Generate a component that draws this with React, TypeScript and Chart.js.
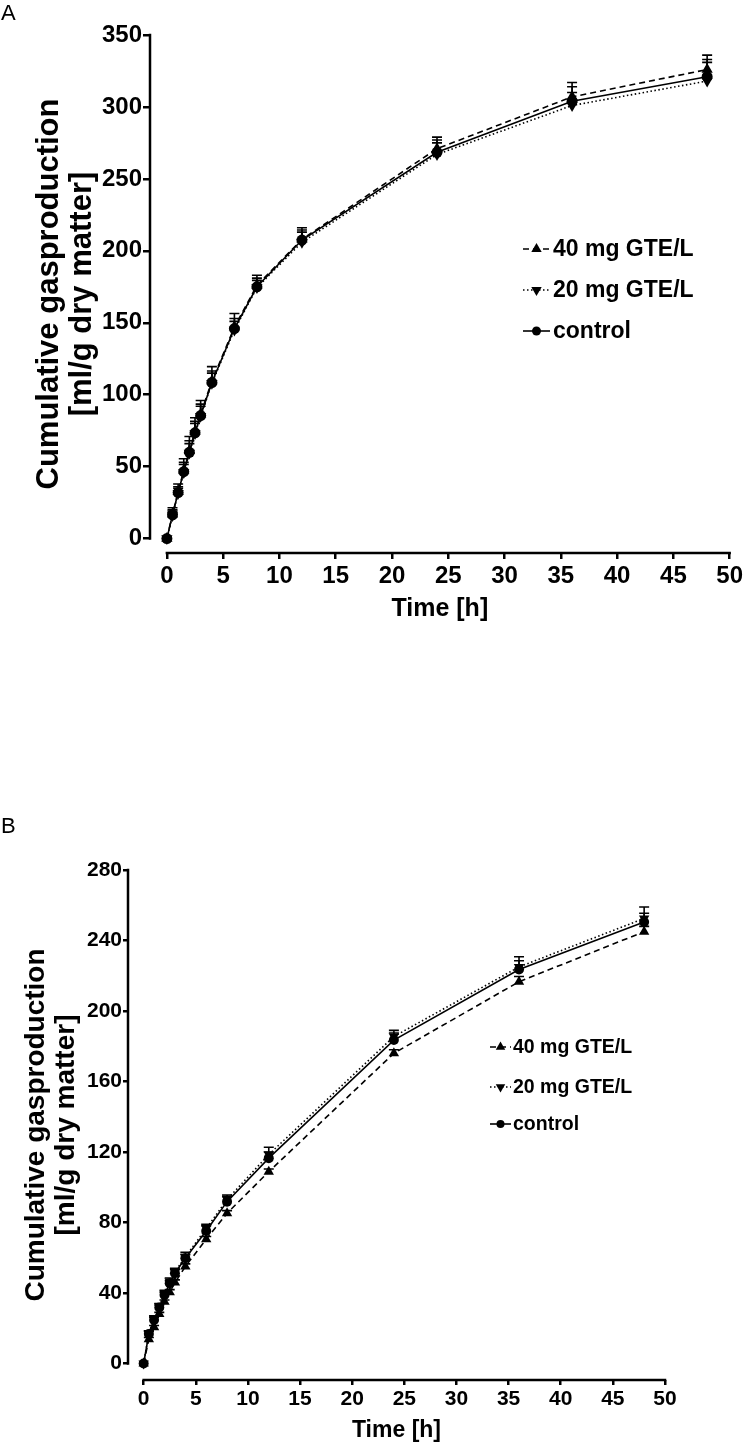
import React, { useEffect, useRef } from "react";
import { Chart, registerables } from "chart.js";

Chart.register(...registerables);

// ---------- data ----------
const times = [0, 0.5, 1, 1.5, 2, 2.5, 3, 4, 6, 8, 12, 24, 36, 48];
const seriesLabels = ["40 mg GTE/L", "20 mg GTE/L", "control"];

// Panel A
const aGte40 = [0, 17, 32.5, 47.5, 61, 74.5, 86.5, 109.5, 147, 176, 208, 271, 307, 326];
const aGte20 = [0, 16, 31.5, 46, 59.5, 73, 85, 108, 145, 174.5, 206, 267, 301, 318];
const aControl = [0, 16.5, 32, 46.5, 60, 73.5, 85.5, 108.5, 146, 175, 207.5, 268.5, 304, 321];
const aGte40Err = [0, 4.5, 5.5, 8, 10, 9.5, 9.5, 10, 9.5, 7, 8, 8, 10, 10];
const aGte20Err = [0, 3, 3.5, 5.5, 6.5, 7, 7, 7, 6, 5, 7, 8, 9, 13];
const aControlErr = [0, 3.5, 4, 6.5, 8, 8, 8, 8, 7, 6, 7, 8.5, 10, 12];
const aYTicks = [0, 50, 100, 150, 200, 250, 300, 350];
const aXTicks = [0, 5, 10, 15, 20, 25, 30, 35, 40, 45, 50];

// Panel B
const bGte40 = [0, 13.7, 20.5, 28, 35, 40.4, 45.9, 55, 70.5, 85.2, 108.8, 176, 216.6, 245];
const bGte20 = [0, 17, 25.5, 32.5, 39.5, 46.5, 52, 60.5, 76.5, 93, 118.5, 185.5, 225, 252.5];
const bControl = [0, 16.7, 24.7, 31.7, 38.9, 45.5, 51.2, 59.7, 75.2, 91.8, 116.5, 183.5, 223.5, 250.5];
const bGte40Err = [0, 1, 1, 1, 1, 1.5, 1.5, 1.5, 1.5, 1.5, 1.5, 2, 3, 3];
const bGte20Err = [0, 1.5, 1.5, 1.5, 2, 2, 2, 2.5, 2.5, 2.6, 4.2, 3.5, 5.8, 6.5];
const bControlErr = [0, 1.5, 1.5, 1.5, 1.5, 1.5, 2, 2, 3, 3, 3.5, 4, 5, 5];
const bYTicks = [0, 40, 80, 120, 160, 200, 240, 280];
const bXTicks = [0, 5, 10, 15, 20, 25, 30, 35, 40, 45, 50];

const yTitleLines = ["Cumulative gasproduction", "[ml/g dry matter]"];
const xTitle = "Time [h]";

// ---------- styling ----------
const FONT = "'Liberation Sans', Arial, Helvetica, sans-serif";

type Panel = {
  top: number;
  width: number;
  height: number;
  padTop: number;
  padRight: number;
  yScaleWidth: number;
  xScaleHeight: number;
  xMin: number;
  yMin: number;
  yTicks: number[];
  xTicks: number[];
  values: number[][];
  errors: number[][];
  tickFont: number;
  yTickLen: number;
  yTickPad: number;
  xTickLen: number;
  xTickPad: number;
  yTitleFont: number;
  yTitleLH: number;
  yTitlePad: number;
  xTitleFont: number;
  xTitlePad: number;
  legendX: number;
  legendLine: number;
  legendTextX: number;
  legendRows: number[];
  legendFont: number;
  markerR: number;
  triR: number;
  capW: number;
};

const markerKinds = ["up", "down", "circle"];
const dashes = [[6, 4], [1.5, 2.5], []];

function drawMarker(ctx: CanvasRenderingContext2D, kind: string, x: number, y: number, r: number) {
  ctx.beginPath();
  if (kind === "circle") {
    ctx.arc(x, y, r, 0, Math.PI * 2);
  } else {
    let rad = kind === "down" ? Math.PI : 0;
    ctx.moveTo(x + Math.sin(rad) * r, y - Math.cos(rad) * r);
    rad += (2 * Math.PI) / 3;
    ctx.lineTo(x + Math.sin(rad) * r, y - Math.cos(rad) * r);
    rad += (2 * Math.PI) / 3;
    ctx.lineTo(x + Math.sin(rad) * r, y - Math.cos(rad) * r);
    ctx.closePath();
  }
  ctx.fill();
}

function makeConfig(p: Panel): any {
  const datasets = seriesLabels.map((label, si) => ({
    label,
    data: times.map((t, i) => ({ x: t, y: p.values[si][i] })),
    borderColor: "#000",
    backgroundColor: "#000",
    borderWidth: 1.6,
    borderDash: dashes[si],
    pointStyle: markerKinds[si] === "circle" ? "circle" : "triangle",
    rotation: markerKinds[si] === "down" ? 180 : 0,
    pointRadius: markerKinds[si] === "circle" ? p.markerR : p.triR,
    pointBorderWidth: 0,
    pointBackgroundColor: "#000",
    pointBorderColor: "#000",
    tension: 0,
    errors: p.errors[si],
    order: 2 - si,
  }));

  const extras = {
    id: "panelExtras",
    afterDatasetsDraw(chart: any) {
      const ctx: CanvasRenderingContext2D = chart.ctx;
      const xs = chart.scales.x;
      const ys = chart.scales.y;
      ctx.save();
      ctx.strokeStyle = "#000";
      ctx.lineWidth = 1.6;
      ctx.setLineDash([]);
      chart.data.datasets.forEach((ds: any) => {
        ds.data.forEach((pt: any, i: number) => {
          const e = ds.errors[i];
          if (!e) return;
          const x = xs.getPixelForValue(pt.x);
          const y0 = ys.getPixelForValue(pt.y);
          const y1 = ys.getPixelForValue(pt.y + e);
          ctx.beginPath();
          ctx.moveTo(x, y0);
          ctx.lineTo(x, y1);
          ctx.moveTo(x - p.capW / 2, y1);
          ctx.lineTo(x + p.capW / 2, y1);
          ctx.stroke();
        });
      });
      ctx.restore();
    },
    afterDraw(chart: any) {
      const ctx: CanvasRenderingContext2D = chart.ctx;
      const xs = chart.scales.x;
      const ys = chart.scales.y;
      const area = chart.chartArea;
      ctx.save();
      ctx.strokeStyle = "#000";
      ctx.lineWidth = 2.5;
      ctx.setLineDash([]);
      ctx.beginPath();
      ctx.moveTo(area.left, ys.getPixelForValue(p.yTicks[0]) + 1.25);
      ctx.lineTo(area.left, ys.getPixelForValue(p.yTicks[p.yTicks.length - 1]) - 1.25);
      ctx.moveTo(xs.getPixelForValue(p.xTicks[0]) - 1.25, area.bottom);
      ctx.lineTo(xs.getPixelForValue(p.xTicks[p.xTicks.length - 1]) + 1.25, area.bottom);
      ctx.stroke();

      // legend
      ctx.font = `bold ${p.legendFont}px ${FONT}`;
      ctx.textBaseline = "middle";
      ctx.textAlign = "left";
      ctx.fillStyle = "#000";
      seriesLabels.forEach((label, si) => {
        const y = p.legendRows[si];
        ctx.lineWidth = 1.6;
        ctx.setLineDash(dashes[si]);
        ctx.beginPath();
        ctx.moveTo(p.legendX, y);
        ctx.lineTo(p.legendX + p.legendLine, y);
        ctx.stroke();
        ctx.setLineDash([]);
        drawMarker(
          ctx,
          markerKinds[si],
          p.legendX + p.legendLine / 2,
          y,
          markerKinds[si] === "circle" ? p.markerR - 1 : p.triR - 0.5
        );
        ctx.fillText(label, p.legendTextX, y + 1);
      });
      ctx.restore();
    },
  };

  return {
    type: "line",
    data: { datasets },
    plugins: [extras],
    options: {
      animation: false,
      responsive: false,
      devicePixelRatio: 1,
      events: [],
      layout: { padding: { left: 0, right: p.padRight, top: p.padTop, bottom: 0 } },
      plugins: { legend: { display: false }, tooltip: { enabled: false } },
      scales: {
        x: {
          type: "linear",
          min: p.xMin,
          max: p.xTicks[p.xTicks.length - 1],
          afterBuildTicks: (s: any) => {
            s.ticks = p.xTicks.map((v) => ({ value: v }));
          },
          afterFit: (s: any) => {
            s.height = p.xScaleHeight;
          },
          border: { display: false },
          grid: {
            drawOnChartArea: false,
            drawTicks: true,
            tickLength: p.xTickLen,
            lineWidth: 2.5,
            color: "#000",
          },
          ticks: {
            color: "#000",
            padding: p.xTickPad,
            maxRotation: 0,
            autoSkip: false,
            font: { family: FONT, size: p.tickFont, weight: "bold" },
          },
          title: {
            display: true,
            text: xTitle,
            color: "#000",
            font: { family: FONT, size: p.xTitleFont, weight: "bold", lineHeight: 1.2 },
            padding: { top: 0, bottom: p.xTitlePad },
          },
        },
        y: {
          type: "linear",
          min: p.yMin,
          max: p.yTicks[p.yTicks.length - 1],
          afterBuildTicks: (s: any) => {
            s.ticks = p.yTicks.map((v) => ({ value: v }));
          },
          afterFit: (s: any) => {
            s.width = p.yScaleWidth;
          },
          border: { display: false },
          grid: {
            drawOnChartArea: false,
            drawTicks: true,
            tickLength: p.yTickLen,
            lineWidth: 2.5,
            color: "#000",
          },
          ticks: {
            color: "#000",
            padding: p.yTickPad,
            autoSkip: false,
            font: { family: FONT, size: p.tickFont, weight: "bold" },
          },
          title: {
            display: true,
            text: yTitleLines,
            color: "#000",
            font: { family: FONT, size: p.yTitleFont, weight: "bold", lineHeight: p.yTitleLH },
            padding: { top: p.yTitlePad, bottom: 0 },
          },
        },
      },
    },
  };
}

const panelA: Panel = {
  top: 0,
  width: 746,
  height: 650,
  padTop: 35,
  padRight: 13,
  yScaleWidth: 150,
  xScaleHeight: 97,
  xMin: -1.5,
  yMin: -10,
  yTicks: aYTicks,
  xTicks: aXTicks,
  values: [aGte40, aGte20, aControl],
  errors: [aGte40Err, aGte20Err, aControlErr],
  tickFont: 24,
  yTickLen: 7,
  yTickPad: 1,
  xTickLen: 6,
  xTickPad: 3,
  yTitleFont: 31,
  yTitleLH: 1.07,
  yTitlePad: 33,
  xTitleFont: 25,
  xTitlePad: 26,
  legendX: 523,
  legendLine: 27,
  legendTextX: 553,
  legendRows: [249, 290, 331],
  legendFont: 23,
  markerR: 5.5,
  triR: 6.5,
  capW: 10,
};

const panelB: Panel = {
  top: 800,
  width: 746,
  height: 644,
  padTop: 70,
  padRight: 81,
  yScaleWidth: 128,
  xScaleHeight: 64,
  xMin: -1.5,
  yMin: -9.4,
  yTicks: bYTicks,
  xTicks: bXTicks,
  values: [bGte40, bGte20, bControl],
  errors: [bGte40Err, bGte20Err, bControlErr],
  tickFont: 21,
  yTickLen: 5,
  yTickPad: 1,
  xTickLen: 5,
  xTickPad: 2,
  yTitleFont: 28,
  yTitleLH: 1.07,
  yTitlePad: 21,
  xTitleFont: 23,
  xTitlePad: 0,
  legendX: 490,
  legendLine: 21,
  legendTextX: 513,
  legendRows: [247, 287, 324],
  legendFont: 19.5,
  markerR: 5,
  triR: 6,
  capW: 10,
};

function ChartPanel({ panel }: { panel: Panel }) {
  const ref = useRef<HTMLCanvasElement | null>(null);
  useEffect(() => {
    if (!ref.current) return;
    const chart = new Chart(ref.current, makeConfig(panel));
    return () => chart.destroy();
  }, [panel]);
  return (
    <canvas
      ref={ref}
      width={panel.width}
      height={panel.height}
      style={{
        position: "absolute",
        left: 0,
        top: panel.top,
        width: panel.width,
        height: panel.height,
        display: "block",
      }}
    />
  );
}

export default function App() {
  const letter: React.CSSProperties = {
    position: "absolute",
    left: 1,
    fontFamily: FONT,
    fontSize: 22,
    lineHeight: "22px",
    color: "#000",
  };
  return (
    <div
      style={{
        position: "absolute",
        left: 0,
        top: 0,
        width: 746,
        height: 1444,
        background: "#fff",
        overflow: "hidden",
      }}
    >
      <ChartPanel panel={panelA} />
      <ChartPanel panel={panelB} />
      <div style={{ ...letter, top: 2 }}>A</div>
      <div style={{ ...letter, top: 815 }}>B</div>
    </div>
  );
}
